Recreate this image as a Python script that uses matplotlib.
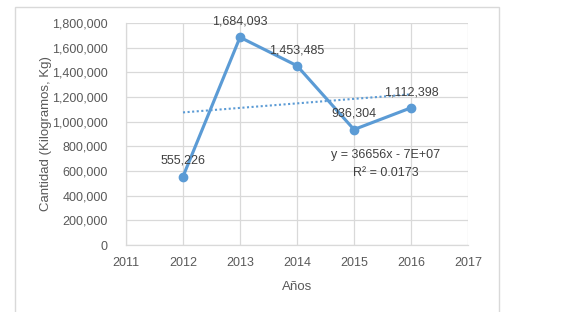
import numpy as np
import matplotlib.pyplot as plt
from matplotlib.patches import Rectangle
from matplotlib.ticker import FuncFormatter

years = [2012, 2013, 2014, 2015, 2016]
cantidad = [555226, 1684093, 1453485, 936304, 1112398]
labels = ['555,226', '1,684,093', '1,453,485', '936,304', '1,112,398']
equation = 'y = 36656x - 7E+07'
r_squared = 'R² = 0.0173'

blue = '#5B9BD5'
gray = '#595959'
grid = '#D9D9D9'

plt.rcParams['font.family'] = ['Liberation Sans', 'DejaVu Sans']
plt.rcParams['font.size'] = 9

fig = plt.figure(figsize=(5.68, 3.12), dpi=100)
fig.patches.append(Rectangle((15 / 568, -0.1), (499 - 15) / 568, 1.1 - 7 / 312,
                             transform=fig.transFigure, fill=False,
                             edgecolor=grid, linewidth=1))
ax = fig.add_axes([126 / 568, 1 - 245 / 312, (468 - 126) / 568, (245 - 23) / 312])

ax.plot(years, cantidad, color=blue, linewidth=2.25, marker='o', markersize=6, zorder=3)

# linear trend
m, b = np.polyfit(years, cantidad, 1)
tx = np.array([years[0], years[-1]])
ax.plot(tx, m * tx + b, color=blue, linewidth=1.5, linestyle=(0, (1, 1.2)), zorder=2)

for x, y, t in zip(years, cantidad, labels):
    ax.annotate(t, (x, y), xytext=(0, 7), textcoords='offset points',
                ha='center', va='bottom', color='#404040', fontsize=9)

ax.text(2015.56, 730000, equation, ha='center', va='center', color='#404040', fontsize=9)
ax.text(2015.56, 584000, r_squared, ha='center', va='center', color='#404040', fontsize=9)

ax.set_xlim(2011, 2017)
ax.set_ylim(0, 1800000)
ax.set_xticks(range(2011, 2018))
ax.set_yticks(range(0, 1800001, 200000))
ax.yaxis.set_major_formatter(FuncFormatter(lambda v, p: '{:,.0f}'.format(v)))
ax.grid(True, color=grid, linewidth=0.9)
ax.set_axisbelow(True)
ax.tick_params(length=0, colors=gray, labelsize=9)
ax.tick_params(axis='y', pad=13)
ax.tick_params(axis='x', pad=9)
for s in ['top', 'right']:
    ax.spines[s].set_visible(False)
for s in ['left', 'bottom']:
    ax.spines[s].set_color(grid)
    ax.spines[s].set_linewidth(0.9)

ax.set_ylabel('Cantidad (Kilogramos, Kg)', color=gray, fontsize=9.5, labelpad=0)
ax.set_xlabel('Años', color=gray, fontsize=9.5, labelpad=8)

fig.savefig('out.png', dpi=100)
